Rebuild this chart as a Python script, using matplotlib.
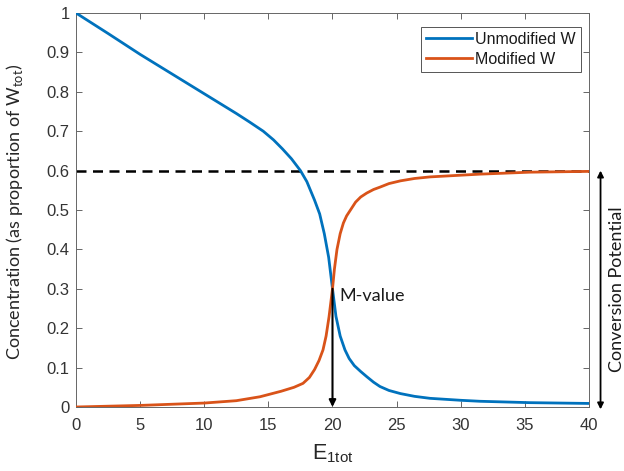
import matplotlib
matplotlib.use("Agg")
import matplotlib.pyplot as plt

# Unmodified W (fraction of W_tot) against E1tot
e_unmod = [0, 2.5, 5, 7.5, 10, 12.5, 13.5, 14.6, 15.4, 16.1, 16.8, 17.5, 18.0,
           18.6, 19.0, 19.36, 19.7, 20.0, 20.27, 20.6, 20.97, 21.3, 21.7, 22.2,
           22.67, 23.2, 23.7, 24.4, 25.3, 26.4, 27.6, 30, 31.5, 35.4, 40]
w_unmod = [1.0, 0.948, 0.895, 0.845, 0.795, 0.745, 0.724, 0.70, 0.678, 0.655,
           0.63, 0.60, 0.572, 0.525, 0.49, 0.44, 0.38, 0.30, 0.23, 0.18, 0.145,
           0.123, 0.105, 0.09, 0.077, 0.063, 0.052, 0.042, 0.034, 0.027, 0.022,
           0.017, 0.0145, 0.011, 0.009]

# Modified W (fraction of W_tot) against E1tot
e_mod = [0, 5, 10, 12.5, 14.35, 16, 17.0, 17.7, 18.2, 18.6, 18.95, 19.26, 19.5,
         19.73, 20.0, 20.15, 20.35, 20.6, 20.85, 21.1, 21.5, 21.8, 22.2, 22.67,
         23.2, 23.7, 24.4, 25.3, 26.4, 27.6, 31.5, 35.4, 40]
w_mod = [0, 0.004, 0.01, 0.016, 0.026, 0.04, 0.05, 0.06, 0.075, 0.095, 0.118,
         0.145, 0.18, 0.229, 0.30, 0.35, 0.40, 0.44, 0.467, 0.485, 0.505, 0.52,
         0.533, 0.543, 0.552, 0.558, 0.567, 0.574, 0.58, 0.584, 0.591, 0.596, 0.598]

conversion_potential = 0.6
m_value = (20.0, 0.30)

BLUE, ORANGE = "#0072BD", "#D95319"
TICKFONT = ["Liberation Sans", "DejaVu Sans"]
NOTEFONT = ["Lato", "DejaVu Sans"]

fig = plt.figure(figsize=(6.24, 4.71), dpi=100)
ax = fig.add_axes([0.1218, 0.1359, 0.8221, 0.8365])

ax.plot(e_unmod, w_unmod, color=BLUE, lw=2.0, label="Unmodified W", zorder=3)
ax.plot(e_mod, w_mod, color=ORANGE, lw=2.0, label="Modified W", zorder=3)
ax.plot([0, 40], [conversion_potential] * 2, color="black", lw=1.8,
        ls=(0, (4, 2.6)), zorder=2)

# M-value marker: arrow from the crossing down to the axis
ax.annotate("", xy=(m_value[0], 0.0), xytext=m_value,
            arrowprops=dict(arrowstyle="-|>", color="black", lw=1.5,
                            mutation_scale=10, shrinkA=0, shrinkB=0), zorder=4)
ax.text(m_value[0] + 0.5, m_value[1] - 0.018, "M-value", fontsize=13,
        family=NOTEFONT, va="center", ha="left", color="#1a1a1a")

# Conversion potential span outside the right edge
ax.annotate("", xy=(40.9, -0.006), xytext=(40.9, conversion_potential),
            xycoords="data", arrowprops=dict(arrowstyle="<|-|>", color="black",
                                             lw=1.3, mutation_scale=9,
                                             shrinkA=0, shrinkB=0),
            annotation_clip=False)
ax.text(42.15, 0.30, "Conversion Potential", rotation=90, fontsize=13,
        family=NOTEFONT, va="center", ha="center", color="#1a1a1a", clip_on=False)

ax.set_xlim(0, 40)
ax.set_ylim(0, 1)
ax.set_xticks(range(0, 41, 5))
ax.set_yticks([i / 10 for i in range(11)])
ax.set_yticklabels(["0"] + [f"0.{i}" for i in range(1, 10)] + ["1"])
ax.tick_params(direction="in", top=True, right=True, length=4, width=0.6,
               color="#4d4d4d", labelcolor="#333333", labelsize=12)
ax.tick_params(axis="x", pad=8)
ax.tick_params(axis="y", pad=4.5)
for lab in ax.get_xticklabels() + ax.get_yticklabels():
    lab.set_family(TICKFONT)
for sp in ax.spines.values():
    sp.set_color("#666666")
    sp.set_linewidth(0.7)

ax.set_xlabel("E$_{\\mathregular{1tot}}$", fontsize=15.5, family=TICKFONT,
              color="#262626", labelpad=7)
ax.set_ylabel("Concentration (as proportion of W$_{\\mathregular{tot}}$)",
              fontsize=13, family=NOTEFONT, color="#262626")
ax.yaxis.set_label_coords(-0.099, 0.495)

leg = ax.legend(loc="upper right", bbox_to_anchor=(0.984, 0.964),
                borderaxespad=0, handlelength=2.9, handletextpad=0.2,
                borderpad=0.3, labelspacing=0.3, fancybox=False, framealpha=1,
                edgecolor="#555555", prop={"family": TICKFONT, "size": 11.5})
leg.get_frame().set_linewidth(0.7)
for txt in leg.get_texts():
    txt.set_color("#1a1a1a")

fig.savefig("out.png", dpi=100, facecolor="white")
